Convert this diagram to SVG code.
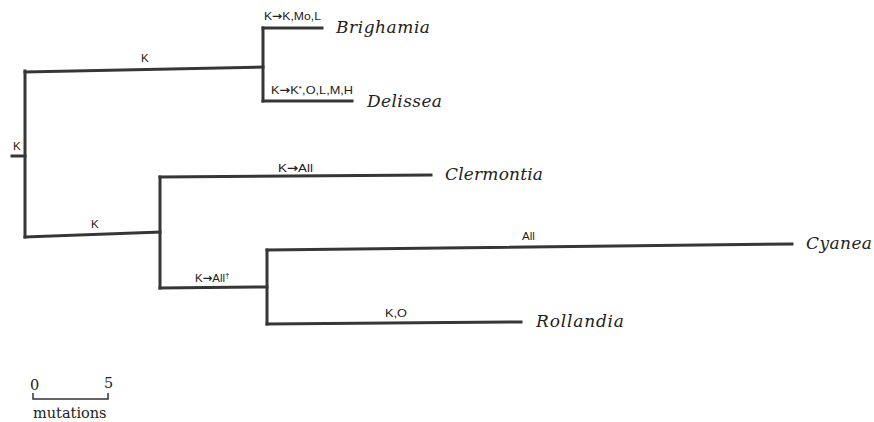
<svg xmlns="http://www.w3.org/2000/svg" width="874" height="422" viewBox="0 0 874 422">
<style>
.br{fill:none;stroke:#363636;stroke-width:3;stroke-linecap:square}
.lab{font-family:"Liberation Sans","DejaVu Sans",sans-serif;font-size:11.5px;fill:#222}
.ar{font-family:"DejaVu Sans",sans-serif;font-weight:bold}
.sp{font-family:"DejaVu Serif","Liberation Serif",serif;font-style:italic;font-size:17px;fill:#222}
.sc{font-family:"DejaVu Serif","Liberation Serif",serif;font-size:14.5px;fill:#222}
.bar{fill:none;stroke:#333;stroke-width:1.5}
</style>
<rect width="874" height="422" fill="#fff"/>
<g id="connectors">
<path class="br" d="M12,156 H25"/>
<path class="br" d="M25,71 V237"/>
<path class="br" d="M25,72 L263,67"/>
<path class="br" d="M263,28 V101"/>
<path class="br" d="M263,28 H322"/>
<path class="br" d="M263,101 H352"/>
<path class="br" d="M25,237 L160,232"/>
<path class="br" d="M160,177 V288"/>
<path class="br" d="M160,177 L431,175"/>
<path class="br" d="M160,288 L267,287"/>
<path class="br" d="M267,250 V324"/>
<path class="br" d="M267,250 L792,244"/>
<path class="br" d="M267,324 L521,322"/>
</g>
<g id="branch-labels">
<text class="lab" x="13" y="150">K</text>
<text class="lab" x="141" y="62">K</text>
<text class="lab" x="91" y="228">K</text>
<text class="lab" x="264" y="20" textLength="57" lengthAdjust="spacingAndGlyphs">K<tspan class="ar">→</tspan>K,Mo,L</text>
<text class="lab" x="271" y="94" textLength="82" lengthAdjust="spacingAndGlyphs">K<tspan class="ar">→</tspan>K<tspan font-size="8" dy="-3">*</tspan><tspan dy="3">,O,L,M,H</tspan></text>
<text class="lab" x="278" y="172" textLength="35" lengthAdjust="spacingAndGlyphs">K<tspan class="ar">→</tspan>All</text>
<text class="lab" x="195" y="282">K<tspan class="ar">→</tspan>All<tspan font-size="8" dy="-4">†</tspan></text>
<text class="lab" x="522" y="240">All</text>
<text class="lab" x="385" y="317" textLength="22" lengthAdjust="spacingAndGlyphs">K,O</text>
</g>
<g id="node-brighamia"><text class="sp" x="336" y="33" textLength="94">Brighamia</text></g>
<g id="node-delissea"><text class="sp" x="367" y="107" textLength="75">Delissea</text></g>
<g id="node-clermontia"><text class="sp" x="445" y="180" textLength="98">Clermontia</text></g>
<g id="node-cyanea"><text class="sp" x="806" y="249" textLength="66">Cyanea</text></g>
<g id="node-rollandia"><text class="sp" x="536" y="327" textLength="88">Rollandia</text></g>
<g id="scale">
<path class="bar" d="M33,393 V399 H108 V393"/>
<text class="sc" x="30" y="390">0</text>
<text class="sc" x="104" y="388">5</text>
<text class="sc" x="33" y="418">mutations</text>
</g>
</svg>
